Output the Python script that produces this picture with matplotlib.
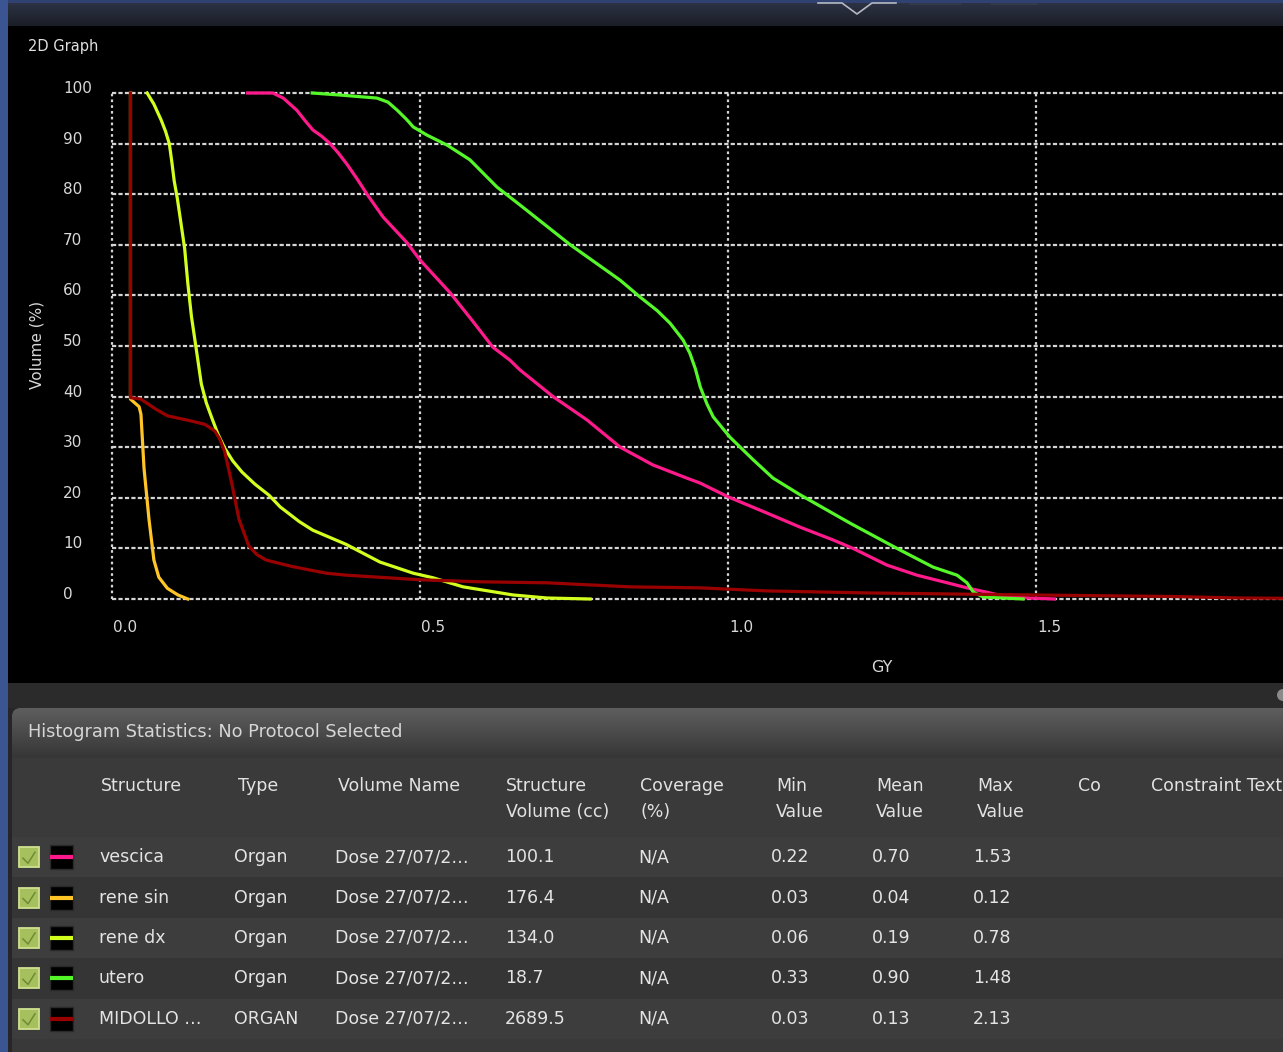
import numpy as np
import matplotlib.pyplot as plt
from matplotlib.patches import Rectangle, FancyBboxPatch, Circle
from matplotlib.colors import LinearSegmentedColormap
from matplotlib.transforms import ScaledTranslation

plt.rcParams['font.family'] = ['DejaVu Sans']

W, H = 1283, 1052

# cumulative DVH curves: dose (Gy) / volume (%)
vescica_dose = [0.22, 0.261, 0.278, 0.300, 0.313, 0.326, 0.340, 0.354, 0.367, 0.381,
                0.398, 0.414, 0.440, 0.479, 0.500, 0.549, 0.585, 0.618, 0.646, 0.662,
                0.716, 0.771, 0.825, 0.878, 0.933, 0.955, 1.000, 1.063, 1.117, 1.170,
                1.203, 1.258, 1.307, 1.356, 1.388, 1.425, 1.45, 1.49, 1.53]
vescica_vol = [100, 100, 99, 96.6, 94.6, 92.7, 91.5, 90, 88.2, 86,
               83, 80, 75.5, 70.4, 67, 60.5, 55, 49.8, 47.2, 45.3,
               40, 35.4, 30, 26.5, 23.9, 22.9, 20.2, 17, 14.2, 11.7,
               10, 6.7, 4.7, 3.2, 2.2, 1.2, 0.5, 0.2, 0.0]

rene_sin_dose = [0.030, 0.030, 0.044, 0.047, 0.052, 0.060, 0.068, 0.076, 0.090, 0.107, 0.123]
rene_sin_vol = [100, 39.5, 38.0, 36.5, 25.8, 15.8, 7.7, 4.3, 2.1, 0.8, 0.0]

rene_dx_dose = [0.057, 0.068, 0.080, 0.087, 0.093, 0.097, 0.101, 0.106, 0.110, 0.118,
                0.123, 0.129, 0.137, 0.145, 0.153, 0.162, 0.172, 0.183, 0.196, 0.211,
                0.232, 0.255, 0.273, 0.304, 0.326, 0.38, 0.435, 0.489, 0.521, 0.570,
                0.651, 0.706, 0.776]
rene_dx_vol = [100, 97.8, 94.6, 92.4, 90, 86.5, 82.6, 79.2, 75.9, 69.2,
               62.5, 55.8, 49.2, 42.5, 38.8, 35.8, 32.6, 29.8, 27.3, 25.1,
               22.7, 20.5, 18.2, 15.3, 13.6, 10.8, 7.3, 5.1, 4.2, 2.4,
               0.8, 0.2, 0.0]

utero_dose = [0.325, 0.370, 0.430, 0.448, 0.463, 0.478, 0.489, 0.511, 0.544, 0.581,
              0.625, 0.662, 0.744, 0.825, 0.857, 0.885, 0.906, 0.927, 0.938, 0.947,
              0.955, 0.966, 0.976, 1.003, 1.041, 1.073, 1.117, 1.198, 1.279, 1.333,
              1.372, 1.388, 1.398, 1.414, 1.479]
utero_vol = [100, 99.6, 99, 98.2, 96.6, 94.8, 93.3, 91.7, 89.7, 86.8,
             81.4, 77.9, 70, 63, 59.7, 57, 54.5, 51.2, 48.6, 45.5,
             41.9, 38.5, 36, 32, 27.5, 23.9, 20.6, 15, 9.7, 6.3,
             4.7, 3.2, 1.4, 0.4, 0.0]

midollo_dose = [0.030, 0.030, 0.047, 0.070, 0.090, 0.128, 0.151, 0.167, 0.175, 0.183,
                0.195, 0.206, 0.222, 0.235, 0.250, 0.293, 0.348, 0.381, 0.5, 0.597,
                0.706, 0.841, 0.955, 1.063, 1.226, 1.490, 1.718, 1.83, 1.95]
midollo_vol = [100, 39.8, 39.5, 37.6, 36.2, 35.2, 34.5, 33.2, 31.6, 29.1,
               22.5, 15.8, 10.5, 8.8, 7.7, 6.4, 5.1, 4.7, 3.8, 3.4,
               3.2, 2.4, 2.2, 1.6, 1.2, 0.8, 0.5, 0.2, 0.1]

# statistics table
structures = ['vescica', 'rene sin', 'rene dx', 'utero', 'MIDOLLO …']
types = ['Organ', 'Organ', 'Organ', 'Organ', 'ORGAN']
volume_names = ['Dose 27/07/2…'] * 5
struct_volumes = ['100.1', '176.4', '134.0', '18.7', '2689.5']
coverage = ['N/A'] * 5
min_values = ['0.22', '0.03', '0.06', '0.33', '0.03']
mean_values = ['0.70', '0.04', '0.19', '0.90', '0.13']
max_values = ['1.53', '0.12', '0.78', '1.48', '2.13']
colors = ['#ff1a8c', '#ffc526', '#d2ff1e', '#55f728', '#990000']

headers = [('', ''), ('Structure', ''), ('Type', ''), ('Volume Name', ''),
           ('Structure', 'Volume (cc)'), ('Coverage', '(%)'), ('Min', 'Value'),
           ('Mean', 'Value'), ('Max', 'Value'), ('Co', ''), ('', ''),
           ('Constraint Text', '')]
col_edges = [12, 92, 229, 329, 497, 631, 767, 867, 968, 1069, 1102, 1142, W + 5]

fig = plt.figure(figsize=(W / 100, H / 100), dpi=100, facecolor='#1f1f1f')

# window chrome, drawn in pixel coordinates
bg = fig.add_axes([0, 0, 1, 1])
bg.axis('off')


def vgrad(x0, x1, y0, y1, c_top, c_bot, clip=None):
    cm = LinearSegmentedColormap.from_list('g', [c_top, c_bot])
    im = bg.imshow(np.linspace(0, 1, 64).reshape(-1, 1), cmap=cm, aspect='auto',
                   extent=[x0, x1, y1, y0], interpolation='bilinear', zorder=1)
    if clip is not None:
        im.set_clip_path(clip)
    return im


vgrad(8, W, 0, 26, '#2f3548', '#1b1e27')
bg.add_patch(Rectangle((0, 0), W, 3, fc='#2f4272', zorder=2))
bg.add_patch(Rectangle((0, 0), 8, H, fc='#3b5593', zorder=2))
bg.plot([818, 842, 857, 872, 896], [3, 3, 14, 3, 3], color='#b5b9c2', lw=1.2, zorder=3)
bg.plot([910, 960], [4, 4], color='#333a4c', lw=1.5, zorder=3)
bg.plot([992, 1037], [4, 4], color='#333a4c', lw=1.5, zorder=3)

bg.add_patch(Rectangle((8, 26), W - 8, 683 - 26, fc='black', zorder=1))
bg.add_patch(Rectangle((8, 683), W - 8, 25, fc='#2b2b2b', zorder=1))
bg.add_patch(Circle((1283, 695), 6, fc='#8a8a8a', zorder=2))
bg.add_patch(Rectangle((8, 708), W - 8, H - 708, fc='#262626', zorder=1))

title_box = FancyBboxPatch((12, 708), W, 60, boxstyle='round,pad=0,rounding_size=9',
                           fc='#444444', ec='none', zorder=1)
bg.add_patch(title_box)
vgrad(12, W, 708, 768, '#5e5e5e', '#2e2e2e', clip=title_box)
bg.text(28, 732, 'Histogram Statistics: No Protocol Selected', color='#d6d6d6',
        fontsize=12.8, va='center', ha='left', zorder=5)

# header row
bg.add_patch(Rectangle((12, 758), W, 79, fc='#3a3a3a', zorder=2))
for i, (top, bottom) in enumerate(headers):
    x0, x1 = col_edges[i], col_edges[i + 1]
    cell = Rectangle((x0 + 1, 760), x1 - x0 - 2, 75, fc='none', ec='none')
    bg.add_patch(cell)
    vgrad(x0 + 1, x1 - 1, 760, 835, '#5f5f5f', '#4c4c4c')
    if top:
        t = bg.text(x0 + 9, 786, top, color='#e2e2e2', fontsize=12.5, va='center',
                    ha='left', zorder=5)
        t.set_clip_path(cell)
    if bottom:
        bg.text(x0 + 9, 812, bottom, color='#e2e2e2', fontsize=12.5, va='center',
                ha='left', zorder=5)

# data rows
row_h = 40.4
for r in range(len(structures)):
    y0 = 837 + r * row_h
    cy = y0 + row_h / 2
    bg.add_patch(Rectangle((12, y0), W, row_h, fc='#3d3d3d' if r % 2 == 0 else '#353535',
                           zorder=2))
    # checkbox
    bg.add_patch(Rectangle((19, cy - 10), 20, 20, fc='#a6c05e', ec='#cfe191', lw=1.3, zorder=3))
    bg.plot([23, 28, 35], [cy + 1, cy + 6, cy - 5], color='#6f8c34', lw=1.1, zorder=4)
    # colour swatch
    bg.add_patch(Rectangle((50, cy - 12), 23, 24, fc='black', ec='#2a2a2a', lw=1, zorder=3))
    bg.plot([50, 73], [cy, cy], color=colors[r], lw=3, solid_capstyle='butt', zorder=4)
    cells = [structures[r], types[r], volume_names[r], struct_volumes[r], coverage[r],
             min_values[r], mean_values[r], max_values[r]]
    xs = [99, 234, 335, 505, 638, 771, 872, 973]
    for x, s in zip(xs, cells):
        bg.text(x, cy, s, color='#e4e4e4', fontsize=12.5, va='center', ha='left', zorder=5)
bg.add_patch(Rectangle((12, 837 + 5 * row_h), W, 20, fc='#393939', zorder=2))

bg.text(28, 46, '2D Graph', color='#e0e0e0', fontsize=10.5, va='center', ha='left', zorder=5)
bg.set_xlim(0, W)
bg.set_ylim(H, 0)

# DVH plot
ax = fig.add_axes([100 / W, 1 - 606 / H, (W - 100) / W, (606 - 85) / H])
ax.set_facecolor('none')
xmax = (W - 112) / 616
ax.set_xlim((100 - 112) / 616, xmax)
ax.set_ylim(-(606 - 599) / 5.06, 100 + (93 - 85) / 5.06)
for s in ax.spines.values():
    s.set_visible(False)

ax.hlines(np.arange(0, 101, 10), 0, xmax, colors='#d4d4d4', lw=1.6,
          linestyles=(0, (1.9, 1.0)), zorder=1)
ax.vlines([0, 0.5, 1.0, 1.5], 0, 100, colors='#d4d4d4', lw=1.6,
          linestyles=(0, (1.2, 1.4)), zorder=1)

curves = [(vescica_dose, vescica_vol), (rene_sin_dose, rene_sin_vol),
          (rene_dx_dose, rene_dx_vol), (utero_dose, utero_vol),
          (midollo_dose, midollo_vol)]
for (d, v), c in zip(curves, colors):
    ax.plot(d, v, color=c, lw=2.3, solid_joinstyle='round', zorder=3)

ax.set_xticks([0, 0.5, 1.0, 1.5], ['0.0', '0.5', '1.0', '1.5'])
ax.set_yticks(np.arange(0, 101, 10))
ax.tick_params(length=0, labelcolor='#d8d8d8', labelsize=11)
ax.tick_params(axis='y', pad=26.6)
ax.tick_params(axis='x', pad=10)
for lab in ax.get_yticklabels():
    lab.set_ha('left')
    lab.set_transform(lab.get_transform() + ScaledTranslation(0, 6 / 100, fig.dpi_scale_trans))
for lab in ax.get_xticklabels():
    lab.set_transform(lab.get_transform() + ScaledTranslation(13 / 100, 0, fig.dpi_scale_trans))

ax.set_xlabel('GY', color='#d8d8d8', fontsize=11.5)
ax.xaxis.set_label_coords((882 - 100) / (W - 100), -(660 - 606) / (606 - 85))
ax.set_ylabel('Volume (%)', color='#d8d8d8', fontsize=11)
ax.yaxis.label.set_va('center')
ax.yaxis.set_label_coords(-(100 - 37) / (W - 100), (606 - 345) / (606 - 85))

fig.savefig('out.png', dpi=100, facecolor=fig.get_facecolor())
